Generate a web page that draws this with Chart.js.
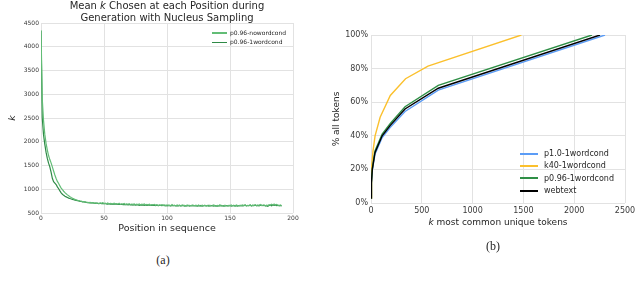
<!DOCTYPE html>
<html>
<head>
<meta charset="utf-8">
<script src="https://cdn.jsdelivr.net/npm/chart.js@4.4.0/dist/chart.umd.min.js"></script>
<style>
  body { margin: 0; background: #fff; }
  #wrap { position: relative; width: 640px; height: 284px; overflow: hidden;
          font-family: "DejaVu Sans", sans-serif; color: #262626; background: #fff; }
  canvas { position: absolute; top: 0; }
  .txt { position: absolute; white-space: nowrap; }
  .cap { font-family: "Liberation Serif", serif; font-size: 12px; line-height: 14px; text-align: center; width: 100px; }
  .leg div { white-space: nowrap; }
  .sw { display: inline-block; vertical-align: middle; }
</style>
</head>
<body>
<div id="wrap">
  <canvas id="chartA" width="320" height="240" style="left:0"></canvas>
  <canvas id="chartB" width="320" height="240" style="left:320px"></canvas>

  <div class="txt" style="left:17px;top:0;width:300px;text-align:center;font-size:10px;line-height:11.5px">
    Mean <i>k</i> Chosen at each Position during<br>Generation with Nucleus Sampling
  </div>
  <div class="txt leg" id="legA" style="left:212px;top:27.5px;font-size:6px;line-height:9.4px"></div>
  <div class="txt cap" style="left:113px;top:253px">(a)</div>

  <div class="txt" style="left:398px;top:216.6px;width:200px;text-align:center;font-size:9px;line-height:10.8px">
    <i>k</i> most common unique tokens
  </div>
  <div class="txt leg" id="legB" style="left:520px;top:148.2px;font-size:8px;line-height:12.3px"></div>
  <div class="txt cap" style="left:443px;top:239px">(b)</div>
</div>

<script>
// ====== Data: (a) mean k per position ======
const seriesA = ["p0.96-nowordcond", "p0.96-1wordcond"];
const colorsA = ["#62bd76", "#2e8a46"];

const kNoWordCond = [
  4350, 2900, 2450, 2160, 1970, 1830, 1710, 1625, 1555, 1470,
  1385, 1300, 1225, 1165, 1120, 1070, 1025, 990, 958, 930,
  905, 882, 862, 843, 826, 812, 798, 787, 777, 768,
  760, 752, 748, 741, 738, 733, 726, 725, 718, 722,
  714, 719, 708, 712, 703, 710, 699, 713, 704, 718,
  700, 708, 695, 712, 690, 702, 697, 688, 705, 693,
  699, 686, 703, 681, 694, 689, 700, 678, 692, 685,
  697, 676, 688, 681, 693, 672, 686, 679, 690, 670,
  684, 676, 691, 668, 680, 673, 686, 664, 678, 671,
  682, 662, 676, 655, 670, 663, 675, 657, 668, 652,
  672, 659, 666, 653, 677, 658, 663, 650, 671, 657,
  664, 648, 669, 655, 660, 646, 667, 654, 661, 649,
  670, 652, 658, 663, 645, 668, 654, 641, 662, 650,
  666, 647, 659, 640, 664, 653, 648, 669, 655, 643,
  660, 651, 671, 648, 657, 642, 665, 652, 646, 662,
  654, 670, 649, 659, 644, 667, 656, 648, 663, 651,
  669, 655, 674, 650, 662, 657, 672, 648, 666, 659,
  675, 653, 668, 661, 679, 655, 664, 671, 650, 667,
  658, 676, 662, 683, 666, 690, 671, 680, 664, 658,
  668, 652
];

const kOneWordCond = [
  4330, 2500, 2150, 1950, 1780, 1650, 1550, 1470, 1360, 1230,
  1160, 1130, 1100, 1050, 1010, 965, 925, 895, 872, 852,
  840, 828, 814, 804, 795, 786, 779, 771, 765, 759,
  754, 746, 743, 735, 731, 728, 722, 719, 717, 713,
  711, 715, 707, 704, 709, 702, 699, 705, 697, 702,
  697, 700, 692, 689, 695, 687, 692, 683, 690, 685,
  688, 680, 686, 679, 684, 676, 682, 674, 680, 673,
  678, 670, 675, 668, 674, 666, 672, 669, 663, 671,
  665, 670, 662, 668, 660, 666, 664, 658, 667, 661,
  663, 657, 665, 655, 662, 659, 654, 664, 656, 660,
  652, 661, 655, 649, 658, 653, 660, 648, 656, 651,
  659, 650, 654, 662, 647, 655, 651, 658, 646, 657,
  652, 660, 649, 655, 645, 656, 650, 658, 644, 653,
  657, 648, 654, 661, 646, 652, 659, 647, 655, 650,
  645, 656, 651, 660, 648, 654, 643, 657, 652, 649,
  658, 646, 653, 661, 650, 655, 647, 657, 652, 660,
  649, 656, 663, 651, 658, 654, 666, 652, 660, 657,
  664, 655, 661, 650, 659, 667, 654, 662, 649, 656,
  643, 658, 665, 653, 670, 660, 668, 655, 662, 650,
  657, 648
];

// ====== Data: (b) share of all tokens covered by top-k ======
const seriesB = ["p1.0-1wordcond", "k40-1wordcond", "p0.96-1wordcond", "webtext"];
const colorsB = ["#5b9cf6", "#fbc02d", "#2f8f46", "#000000"];

const kP10 = [1, 4, 13, 39, 110, 190, 335, 662, 2303];
const pctP10 = [3, 11.5, 19.5, 29, 39, 45, 54.5, 67.2, 100];

const kK40 = [1, 3, 8, 20, 40, 90, 190, 340, 561, 1480];
const pctK40 = [3, 14, 21, 31, 40, 51, 64, 74, 81.5, 100];

const kP096 = [1, 4, 13, 39, 110, 190, 335, 662, 2175];
const pctP096 = [3, 12.5, 20.5, 31, 41, 47.3, 57.3, 70, 100];

const kWebtext = [1, 4, 13, 39, 110, 190, 335, 662, 2254];
const pctWebtext = [3, 12, 20, 30, 40, 46.2, 56, 68.3, 100];

// ====== Shared style ======
Chart.defaults.font.family = "'DejaVu Sans', sans-serif";
Chart.defaults.color = "#3a3a3a";
const gridColor = "#e2e2e2";
const plain = v => String(v);

function toPoints(xs, ys) {
  return ys.map((y, i) => ({ x: xs[i], y: y }));
}

// ====== Chart (a) ======
new Chart(document.getElementById("chartA"), {
  type: "line",
  data: {
    datasets: [
      { label: seriesA[0], data: kNoWordCond.map((v, i) => ({ x: i, y: v })),
        borderColor: colorsA[0], borderWidth: 1.2, pointRadius: 0, tension: 0 },
      { label: seriesA[1], data: kOneWordCond.map((v, i) => ({ x: i, y: v })),
        borderColor: colorsA[1], borderWidth: 1.2, pointRadius: 0, tension: 0 }
    ]
  },
  options: {
    responsive: false,
    animation: false,
    devicePixelRatio: 1,
    layout: { padding: { left: 0, right: 27, top: 23, bottom: 0 } },
    plugins: { legend: { display: false }, tooltip: { enabled: false } },
    scales: {
      x: {
        type: "linear", min: 0, max: 200,
        ticks: { stepSize: 50, font: { size: 6 }, padding: 2, maxRotation: 0, autoSkip: false, callback: plain },
        grid: { color: gridColor, drawTicks: false },
        border: { display: false },
        title: { display: true, text: "Position in sequence", color: "#262626",
                 font: { size: 9.5 }, padding: { top: 0, bottom: 5.3 } },
        afterFit: s => { s.height = 27; }
      },
      y: {
        min: 500, max: 4500,
        ticks: { stepSize: 500, font: { size: 6 }, padding: 2, callback: plain },
        grid: { color: gridColor, drawTicks: false },
        border: { display: false },
        title: { display: true, text: "k", color: "#262626",
                 font: { size: 9.5, style: "italic" }, padding: { top: 7.3, bottom: 0 } },
        afterFit: s => { s.width = 41; }
      }
    }
  }
});

// ====== Chart (b) ======
const seriesBData = [[kP10, pctP10], [kK40, pctK40], [kP096, pctP096], [kWebtext, pctWebtext]];
const drawOrder = [3, 2, 1, 0];

new Chart(document.getElementById("chartB"), {
  type: "line",
  data: {
    datasets: seriesBData.map((d, i) => ({
      label: seriesB[i],
      data: toPoints(d[0], d[1]),
      borderColor: colorsB[i],
      borderWidth: 1.4,
      pointRadius: 0,
      tension: 0,
      order: drawOrder[i]
    }))
  },
  options: {
    responsive: false,
    animation: false,
    devicePixelRatio: 1,
    layout: { padding: { left: 0, right: 15, top: 35, bottom: 0 } },
    plugins: { legend: { display: false }, tooltip: { enabled: false } },
    scales: {
      x: {
        type: "linear", min: 0, max: 2500,
        ticks: { stepSize: 500, font: { size: 8 }, padding: 3, maxRotation: 0, autoSkip: false, callback: plain },
        grid: { color: gridColor, drawTicks: false },
        border: { display: false },
        afterFit: s => { s.height = 37; }
      },
      y: {
        min: 0, max: 100,
        ticks: { stepSize: 20, font: { size: 8 }, padding: 3, callback: v => v + "%" },
        grid: { color: gridColor, drawTicks: false },
        border: { display: false },
        title: { display: true, text: "% all tokens", color: "#262626",
                 font: { size: 9 }, padding: { top: 11.6, bottom: 0 } },
        afterFit: s => { s.width = 51; }
      }
    }
  }
});

// ====== Legends ======
function buildLegend(id, labels, colors, swW, swH, gap) {
  const el = document.getElementById(id);
  labels.forEach((lab, i) => {
    const row = document.createElement("div");
    const sw = document.createElement("span");
    sw.className = "sw";
    sw.style.width = swW + "px";
    sw.style.height = swH + "px";
    sw.style.background = colors[i];
    sw.style.marginRight = gap + "px";
    row.appendChild(sw);
    row.appendChild(document.createTextNode(lab));
    el.appendChild(row);
  });
}
buildLegend("legA", seriesA, colorsA, 15, 1.5, 3);
buildLegend("legB", seriesB, colorsB, 18, 2, 6);
</script>
</body>
</html>
